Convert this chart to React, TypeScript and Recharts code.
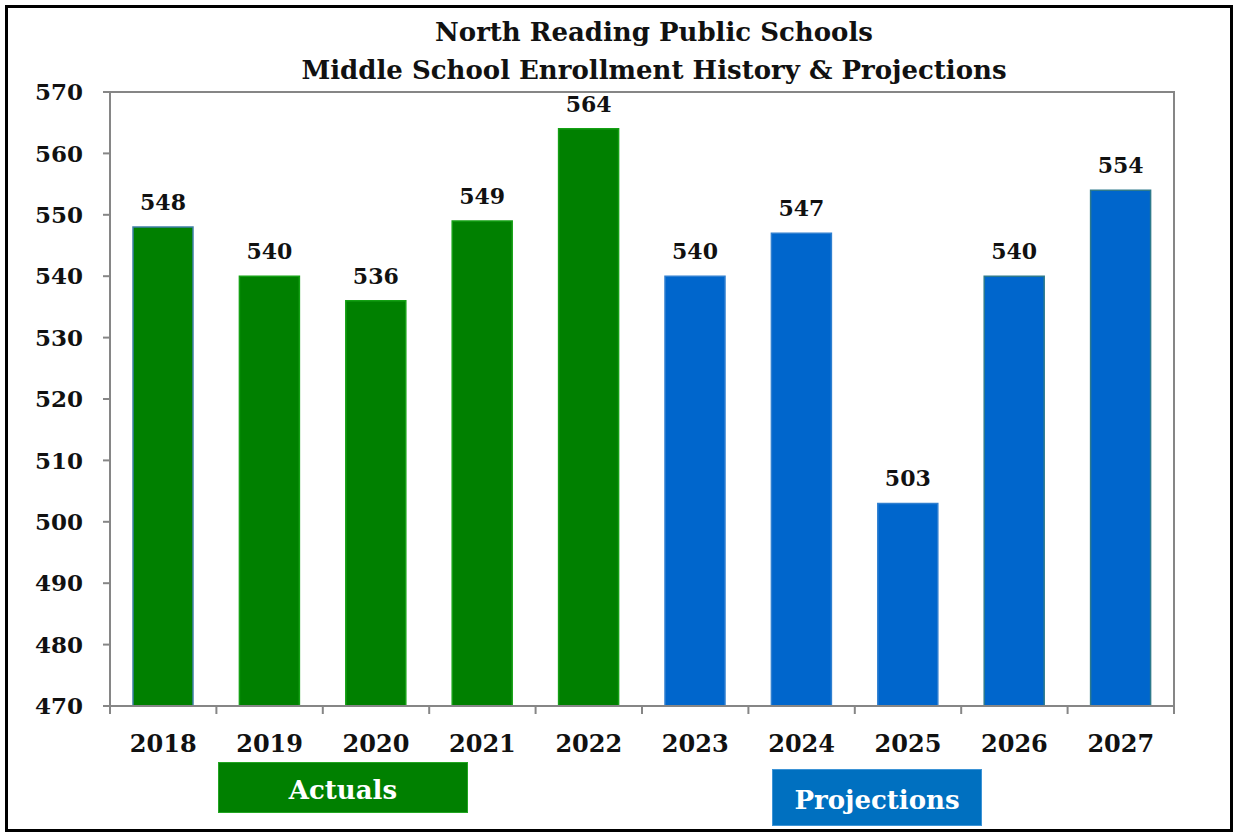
import { BarChart, Bar, XAxis, YAxis, Cell, LabelList, ReferenceArea } from 'recharts';

const years = ['2018', '2019', '2020', '2021', '2022', '2023', '2024', '2025', '2026', '2027'];
const enrollment = [548, 540, 536, 549, 564, 540, 547, 503, 540, 554];
const kinds = ['actual', 'actual', 'actual', 'actual', 'actual', 'projection', 'projection', 'projection', 'projection', 'projection'];
const yTicks = [470, 480, 490, 500, 510, 520, 530, 540, 550, 560, 570];
const titleLines = ['North Reading Public Schools', 'Middle School Enrollment History & Projections'];

const FONT = '"DejaVu Serif", "Liberation Serif", serif';
const AXIS = '#868686';
const FILL: Record<string, string> = { actual: '#008000', projection: '#0066CC' };
const EDGE: Record<string, string> = { actual: '#14a014', projection: '#2f7fd0' };
// a few bars have a darker outline in the original
const OUTLINE: Record<string, string> = { '2018': '#3f7fa8', '2026': '#2e7a8c', '2027': '#2e7a8c' };

const rows = years.map((year, i) => ({ year, value: enrollment[i], kind: kinds[i] }));

function YearTick(props: any) {
  const { x, y, payload, index, visibleTicksCount, width } = props;
  const half = payload?.offset || width / visibleTicksCount / 2;
  return (
    <g>
      <line x1={x - half} x2={x - half} y1={y} y2={y + 8} stroke={AXIS} strokeWidth={2} />
      {index === visibleTicksCount - 1 && (
        <line x1={x + half} x2={x + half} y1={y} y2={y + 8} stroke={AXIS} strokeWidth={2} />
      )}
      <text x={x} y={y + 46} textAnchor="middle" fontFamily={FONT} fontWeight="bold" fontSize={24} fill="#111">
        {payload.value}
      </text>
    </g>
  );
}

const boxText = {
  position: 'absolute' as const,
  boxSizing: 'border-box' as const,
  color: '#fff',
  fontWeight: 'bold',
  fontSize: 26,
  display: 'flex',
  alignItems: 'center',
  justifyContent: 'center',
  paddingTop: 4,
};

export default function App() {
  return (
    <div style={{ position: 'relative', width: 1236, height: 834, background: '#fff', fontFamily: FONT }}>
      <style>{'body{margin:0}'}</style>
      <div
        style={{
          position: 'absolute',
          left: 5,
          top: 5,
          width: 1228,
          height: 827,
          border: '3px solid #000',
          boxSizing: 'border-box',
        }}
      />
      <div
        style={{
          position: 'absolute',
          left: 654,
          top: 13,
          transform: 'translateX(-50%)',
          whiteSpace: 'nowrap',
          textAlign: 'center',
          fontWeight: 'bold',
          fontSize: 26,
          lineHeight: '38px',
          color: '#111',
        }}
      >
        {titleLines.map((t) => (
          <div key={t}>{t}</div>
        ))}
      </div>
      <BarChart
        width={1236}
        height={834}
        data={rows}
        margin={{ top: 92, right: 62, bottom: 0, left: 0 }}
        barSize={60}
      >
        <ReferenceArea y1={470} y2={570} fill="none" stroke={AXIS} strokeWidth={2} />
        <XAxis
          dataKey="year"
          height={128}
          axisLine={{ stroke: AXIS, strokeWidth: 2 }}
          tickLine={false}
          tickSize={0}
          tickMargin={0}
          interval={0}
          tick={<YearTick />}
        />
        <YAxis
          width={110}
          domain={[470, 570]}
          ticks={yTicks}
          interval={0}
          axisLine={{ stroke: AXIS, strokeWidth: 2 }}
          tickLine={{ stroke: AXIS, strokeWidth: 2 }}
          tickSize={7}
          tickMargin={20}
          tick={{ fontFamily: FONT, fontWeight: 'bold', fontSize: 23, fill: '#111' }}
        />
        <Bar dataKey="value" isAnimationActive={false}>
          {rows.map((r) => (
            <Cell key={r.year} fill={FILL[r.kind]} stroke={OUTLINE[r.year] || EDGE[r.kind]} strokeWidth={1.5} />
          ))}
          <LabelList
            dataKey="value"
            position="top"
            offset={17}
            fontFamily={FONT}
            fontWeight="bold"
            fontSize={22}
            fill="#111"
          />
        </Bar>
      </BarChart>
      <div
        style={{
          ...boxText,
          left: 218,
          top: 762,
          width: 250,
          height: 51,
          background: '#008000',
          border: '1px solid #22a522',
        }}
      >
        Actuals
      </div>
      <div
        style={{
          ...boxText,
          left: 772,
          top: 769,
          width: 210,
          height: 57,
          background: '#0070C0',
          border: '1px solid #3d94d6',
        }}
      >
        Projections
      </div>
    </div>
  );
}
